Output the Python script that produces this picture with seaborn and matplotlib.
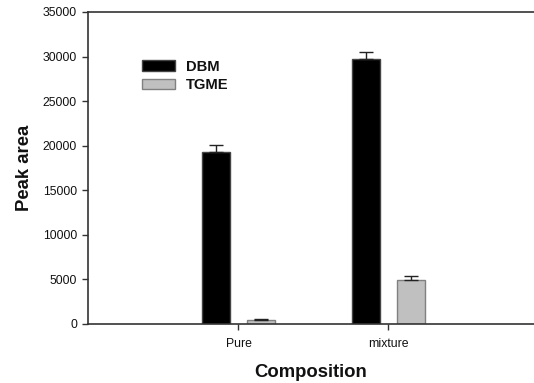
import matplotlib
matplotlib.use("Agg")
import matplotlib.pyplot as plt
import seaborn as sns
import pandas as pd
import numpy as np

compositions = ["Pure", "mixture"]
series = ["DBM", "TGME"]
dbm_values = [19300, 29700]
dbm_errors = [800, 800]
tgme_values = [420, 4950]
tgme_errors = [110, 380]

sns.set_style("white")
plt.rcParams['font.family'] = ['Liberation Sans', 'DejaVu Sans']

df = pd.DataFrame({
    "Composition": compositions * 2,
    "Series": [series[0]] * 2 + [series[1]] * 2,
    "Peak area": dbm_values + tgme_values,
})
errs = {series[0]: dbm_errors, series[1]: tgme_errors}

fig = plt.figure(figsize=(5.34, 3.83), dpi=100)
ax = fig.add_axes([88/534, 59/383, 1 - 88/534, (324-12)/383])

sns.barplot(data=df, x="Composition", y="Peak area", hue="Series",
            order=compositions, hue_order=series,
            palette={"DBM": "#000000", "TGME": "#c0c0c0"},
            errorbar=None, width=0.607, gap=0.38, ax=ax, legend=True)

edgecols = {"DBM": "#444444", "TGME": "#808080"}
for cont, s in zip(ax.containers, series):
    xs, ys = [], []
    for bar in cont:
        bar.set_edgecolor(edgecols[s])
        bar.set_linewidth(1.0)
        xs.append(bar.get_x() + bar.get_width() / 2)
        ys.append(bar.get_height())
    e = np.array(errs[s])
    ax.errorbar(xs, ys, yerr=[np.zeros_like(e), e], fmt="none",
                ecolor="#222222", elinewidth=1.0, capsize=5, capthick=1.0,
                zorder=1)

ax.set_xlim(-1.003, 1.97)
ax.set_ylim(0, 35000)
ax.set_yticks(np.arange(0, 35001, 5000))
ax.tick_params(axis="both", labelsize=8.8, direction="out", length=4,
               width=1.0, color="#333333", labelcolor="#111111",
               bottom=True, left=True, top=False, right=False)
ax.tick_params(axis="x", pad=6)
ax.tick_params(axis="y", pad=4)
for side in ["left", "bottom", "top"]:
    ax.spines[side].set_visible(True)
    ax.spines[side].set_color("#333333")
    ax.spines[side].set_linewidth(1.2)
ax.spines["right"].set_visible(False)

ax.set_xlabel("Composition", fontsize=13.3, fontweight="bold", labelpad=10,
              color="#111111")
ax.set_ylabel("Peak area", fontsize=13.3, fontweight="bold", labelpad=7,
              color="#111111")

leg = ax.legend(loc="upper left", bbox_to_anchor=(0.107, 0.866), frameon=False,
                prop={"weight": "bold", "size": 10.6},
                handlelength=2.3, handleheight=0.68, handletextpad=0.7,
                labelspacing=0.3, borderaxespad=0)
for t in leg.get_texts():
    t.set_color("#111111")
for h, s in zip(leg.legend_handles, series):
    h.set_edgecolor(edgecols[s])
    h.set_linewidth(1.0)

fig.savefig("out.png", dpi=100)
